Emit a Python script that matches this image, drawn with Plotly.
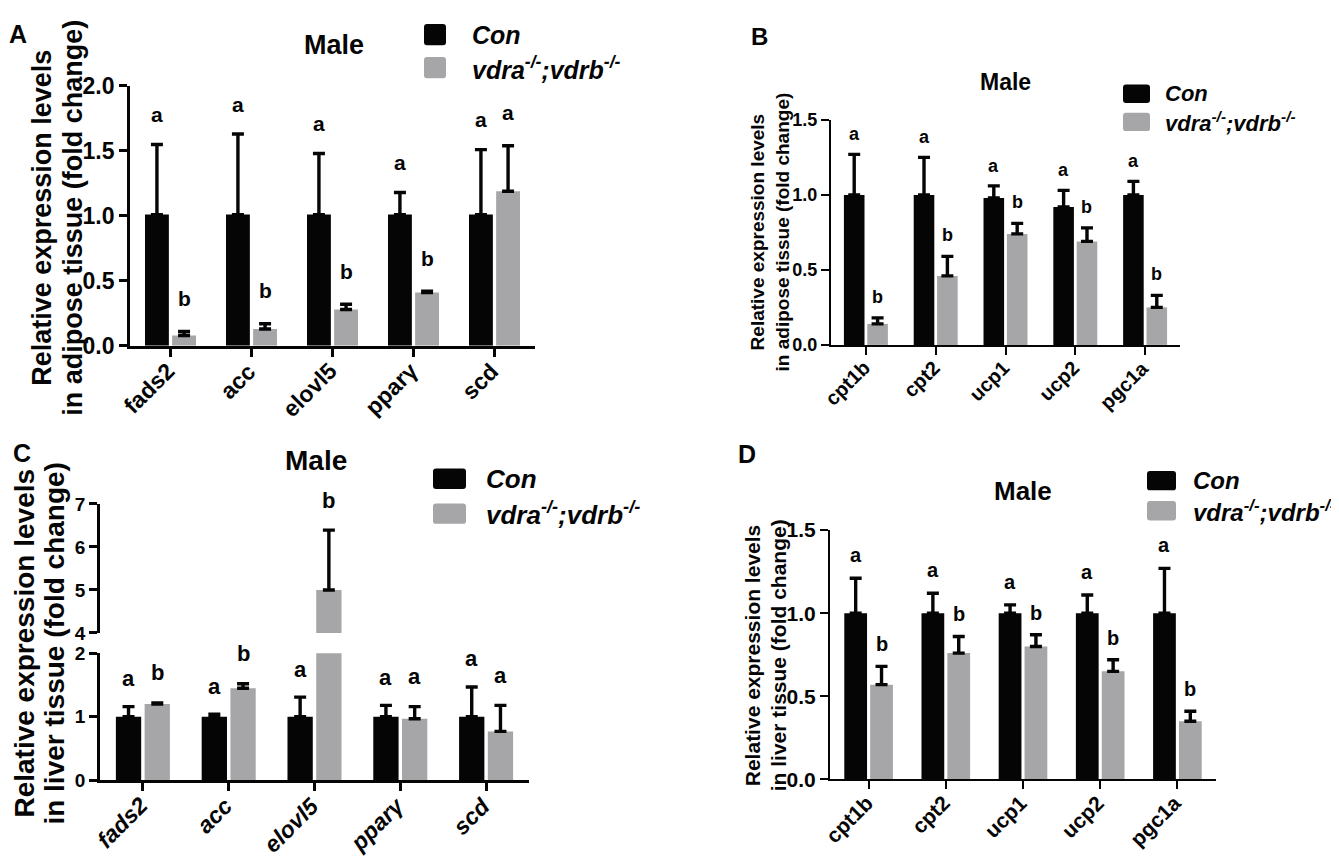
import plotly.graph_objects as go

W, H = 1339, 860
FONT = 'Liberation Sans, Arial, sans-serif'
BLACK = '#050505'
GRAY = '#a6a6a9'

# ---- data ----
genes_lipid = ['fads2', 'acc', 'elovl5', 'pparγ', 'scd']
genes_oxid = ['cpt1b', 'cpt2', 'ucp1', 'ucp2', 'pgc1a']

# A: adipose, lipid synthesis
con_a = [1.01, 1.01, 1.01, 1.01, 1.01]
con_a_sd = [0.54, 0.62, 0.47, 0.17, 0.50]
mut_a = [0.08, 0.13, 0.28, 0.41, 1.19]
mut_a_sd = [0.03, 0.04, 0.04, 0.01, 0.35]
let_a_con = ['a', 'a', 'a', 'a', 'a']
let_a_mut = ['b', 'b', 'b', 'b', 'a']

# B: adipose, fatty acid oxidation
con_b = [1.00, 1.00, 0.98, 0.92, 1.00]
con_b_sd = [0.27, 0.25, 0.08, 0.11, 0.09]
mut_b = [0.14, 0.46, 0.74, 0.69, 0.25]
mut_b_sd = [0.04, 0.13, 0.07, 0.09, 0.08]
let_b_con = ['a', 'a', 'a', 'a', 'a']
let_b_mut = ['b', 'b', 'b', 'b', 'b']

# C: liver, lipid synthesis (broken y axis)
con_c = [1.00, 1.00, 1.00, 1.00, 1.00]
con_c_sd = [0.16, 0.04, 0.31, 0.18, 0.47]
mut_c = [1.20, 1.45, 5.00, 0.97, 0.77]
mut_c_sd = [0.02, 0.07, 1.39, 0.19, 0.41]
let_c_con = ['a', 'a', 'a', 'a', 'a']
let_c_mut = ['b', 'b', 'b', 'a', 'a']

# D: liver, fatty acid oxidation
con_d = [1.00, 1.00, 1.00, 1.00, 1.00]
con_d_sd = [0.21, 0.12, 0.05, 0.11, 0.27]
mut_d = [0.57, 0.76, 0.80, 0.65, 0.35]
mut_d_sd = [0.11, 0.10, 0.07, 0.07, 0.06]
let_d_con = ['a', 'a', 'a', 'a', 'a']
let_d_mut = ['b', 'b', 'b', 'b', 'b']

mut_label = '<i>vdra</i><sup>-/-</sup>;<i>vdrb</i><sup>-/-</sup>'

BARGAP = 0.33
GROUPGAP = 0.12
# centre offset of each bar inside its group (category units)
OFF = (1 - BARGAP) / 4


def px(x):
    return x / W


def py(y):
    return 1 - y / H


fig = go.Figure()
annotations = []
shapes = []


def font(size, italic=False, color=BLACK):
    return dict(family=FONT, size=size, color=color, weight='bold',
                style='italic' if italic else 'normal')


def add_bars(xa, ya, genes, vals, sd, color, name):
    fig.add_trace(go.Bar(
        x=genes, y=vals, name=name, xaxis=xa, yaxis=ya,
        marker=dict(color=color, line=dict(width=0)),
        error_y=dict(type='data', array=sd, arrayminus=[0] * len(sd),
                     symmetric=False, color=BLACK, thickness=3.4, width=6),
        showlegend=False,
    ))


def add_letters(xref, yref, vals, sd, letters, side, size, shift, yref_hi=None, split=None):
    for i, (v, s, t) in enumerate(zip(vals, sd, letters)):
        top = v + s
        ref = yref
        if yref_hi is not None and top > split:
            ref = yref_hi
        annotations.append(dict(
            x=i + side * OFF, y=top, xref=xref, yref=ref, text=t,
            showarrow=False, yshift=shift, yanchor='middle',
            font=font(size)))


def add_categories(xref, genes, axis_y, size, italic):
    # rotated gene names, ending just under each tick
    for i, g in enumerate(genes):
        annotations.append(dict(
            x=i, y=py(axis_y), xref=xref, yref='paper', text=g,
            textangle=-45, showarrow=False, xanchor='right', yanchor='top',
            xshift=int(size * 0.55), yshift=-9, font=font(size, italic)))


def rounded_rect(x0, x1, y0, y1, r=3):
    # path in paper units with small rounded corners
    rx, ry = r / W, r / H
    a0, a1, b0, b1 = px(x0), px(x1), py(y1), py(y0)
    return (f'M {a0 + rx},{b0} L {a1 - rx},{b0} Q {a1},{b0} {a1},{b0 + ry} '
            f'L {a1},{b1 - ry} Q {a1},{b1} {a1 - rx},{b1} L {a0 + rx},{b1} '
            f'Q {a0},{b1} {a0},{b1 - ry} L {a0},{b0 + ry} Q {a0},{b0} {a0 + rx},{b0} Z')


def add_legend(x0, x1, y_con, y_mut, h, tx, size):
    for yc, col, txt in [(y_con, BLACK, '<i>Con</i>'), (y_mut, GRAY, mut_label)]:
        shapes.append(dict(type='path', xref='paper', yref='paper',
                           path=rounded_rect(x0, x1, yc - h / 2, yc + h / 2),
                           fillcolor=col, line=dict(width=0)))
        annotations.append(dict(x=px(tx), y=py(yc), xref='paper', yref='paper',
                                text=txt, showarrow=False, xanchor='left',
                                yanchor='middle', font=font(size, italic=True)))


def add_text(x, y, text, size, angle=0):
    annotations.append(dict(x=px(x), y=py(y), xref='paper', yref='paper',
                            text=text, showarrow=False, textangle=angle,
                            xanchor='center', yanchor='middle', font=font(size)))


def xaxis_style(x0, x1, anchor, lw):
    return dict(domain=[px(x0), px(x1)], anchor=anchor, type='category',
                range=[-0.5, 4.5], showline=True, linecolor=BLACK, linewidth=lw,
                ticks='outside', ticklen=8, tickwidth=lw, tickcolor=BLACK,
                showticklabels=False, showgrid=False,
                zeroline=False, fixedrange=True)


def yaxis_style(y_top, y_bot, anchor, rng, dtick, fmt, size, lw):
    return dict(domain=[py(y_bot), py(y_top)], anchor=anchor, range=rng,
                dtick=dtick, tick0=0, tickformat=fmt, showline=True,
                linecolor=BLACK, linewidth=lw, ticks='outside', ticklen=8,
                tickwidth=lw, tickcolor=BLACK, tickfont=font(size),
                showgrid=False, zeroline=False, fixedrange=True)


# ---- Panel A ----
add_bars('x', 'y', genes_lipid, con_a, con_a_sd, BLACK, 'Con')
add_bars('x', 'y', genes_lipid, mut_a, mut_a_sd, GRAY, 'vdra-/-;vdrb-/-')
add_letters('x', 'y', con_a, con_a_sd, let_a_con, -1, 21, 30)
add_letters('x', 'y', mut_a, mut_a_sd, let_a_mut, 1, 21, 33)
add_categories('x', genes_lipid, 335, 23, False)
add_legend(416, 438, 14, 48, 22, 462, 25)
add_text(326, 25, 'Male', 27)
add_text(10, 13, 'A', 25)
add_text(34, 203, 'Relative expression levels', 27, -90)
add_text(65, 203, 'in adipose tissue (fold change)', 27, -90)

# ---- Panel B ----
add_bars('x2', 'y2', genes_oxid, con_b, con_b_sd, BLACK, 'Con')
add_bars('x2', 'y2', genes_oxid, mut_b, mut_b_sd, GRAY, 'vdra-/-;vdrb-/-')
add_letters('x2', 'y2', con_b, con_b_sd, let_b_con, -1, 18, 20)
add_letters('x2', 'y2', mut_b, mut_b_sd, let_b_mut, 1, 18, 21)
add_categories('x2', genes_oxid, 334, 20, False)
add_legend(1115, 1142, 75, 104, 19, 1155, 22)
add_text(998, 63, 'Male', 23)
add_text(751, 16, 'B', 24)
add_text(749, 218, 'Relative expression levels', 19, -90)
add_text(774, 218, 'in adipose tissue (fold change)', 19, -90)

# ---- Panel C (lower segment y3, upper segment y5) ----
for ya in ['y3', 'y5']:
    add_bars('x3', ya, genes_lipid, con_c, con_c_sd, BLACK, 'Con')
    add_bars('x3', ya, genes_lipid, mut_c, mut_c_sd, GRAY, 'vdra-/-;vdrb-/-')
add_letters('x3', 'y3', con_c, con_c_sd, let_c_con, -1, 22, 28, 'y5', 3)
add_letters('x3', 'y3', mut_c, mut_c_sd, let_c_mut, 1, 22, 30, 'y5', 3)
add_categories('x3', genes_lipid, 783, 23, True)
add_legend(425, 458, 472, 508, 21, 476, 26)
add_text(308, 453, 'Male', 28)
add_text(14, 445, 'C', 25)
add_text(17, 642, 'Relative expression levels', 28, -90)
add_text(47, 642, 'in liver tissue (fold change)', 28, -90)

# ---- Panel D ----
add_bars('x4', 'y4', genes_oxid, con_d, con_d_sd, BLACK, 'Con')
add_bars('x4', 'y4', genes_oxid, mut_d, mut_d_sd, GRAY, 'vdra-/-;vdrb-/-')
add_letters('x4', 'y4', con_d, con_d_sd, let_d_con, -1, 20, 23)
add_letters('x4', 'y4', mut_d, mut_d_sd, let_d_mut, 1, 20, 22)
add_categories('x4', genes_oxid, 782, 21, False)
add_legend(1139, 1168, 474, 505, 20, 1183, 24)
add_text(1015, 485, 'Male', 26)
add_text(739, 446, 'D', 25)
add_text(744, 654, 'Relative expression levels', 21, -90)
add_text(770, 654, 'in liver tissue (fold change)', 21, -90)

fig.update_layout(
    width=W, height=H,
    margin=dict(l=0, r=0, t=0, b=0),
    paper_bgcolor='white', plot_bgcolor='white',
    barmode='group', bargap=BARGAP, bargroupgap=GROUPGAP,
    showlegend=False,
    font=dict(family=FONT, color=BLACK),
    xaxis=xaxis_style(122, 527, 'y', 2.8),
    yaxis=yaxis_style(67, 335, 'x', [0, 2.0], 0.5, '.1f', 23, 2.8),
    xaxis2=xaxis_style(823, 1172, 'y2', 2.2),
    yaxis2=yaxis_style(102, 334, 'x2', [0, 1.5], 0.5, '.1f', 18, 2.2),
    xaxis3=xaxis_style(92, 521, 'y3', 2.8),
    yaxis3=yaxis_style(652, 783, 'x3', [0, 2], 1, 'd', 19, 2.8),
    yaxis5=yaxis_style(498, 631, 'x3', [4, 7], 1, 'd', 19, 2.8),
    xaxis4=xaxis_style(822, 1208, 'y4', 2.2),
    yaxis4=yaxis_style(525, 782, 'x4', [0, 1.5], 0.5, '.1f', 21, 2.2),
    annotations=annotations,
    shapes=shapes,
)

fig.write_html('out.html')
